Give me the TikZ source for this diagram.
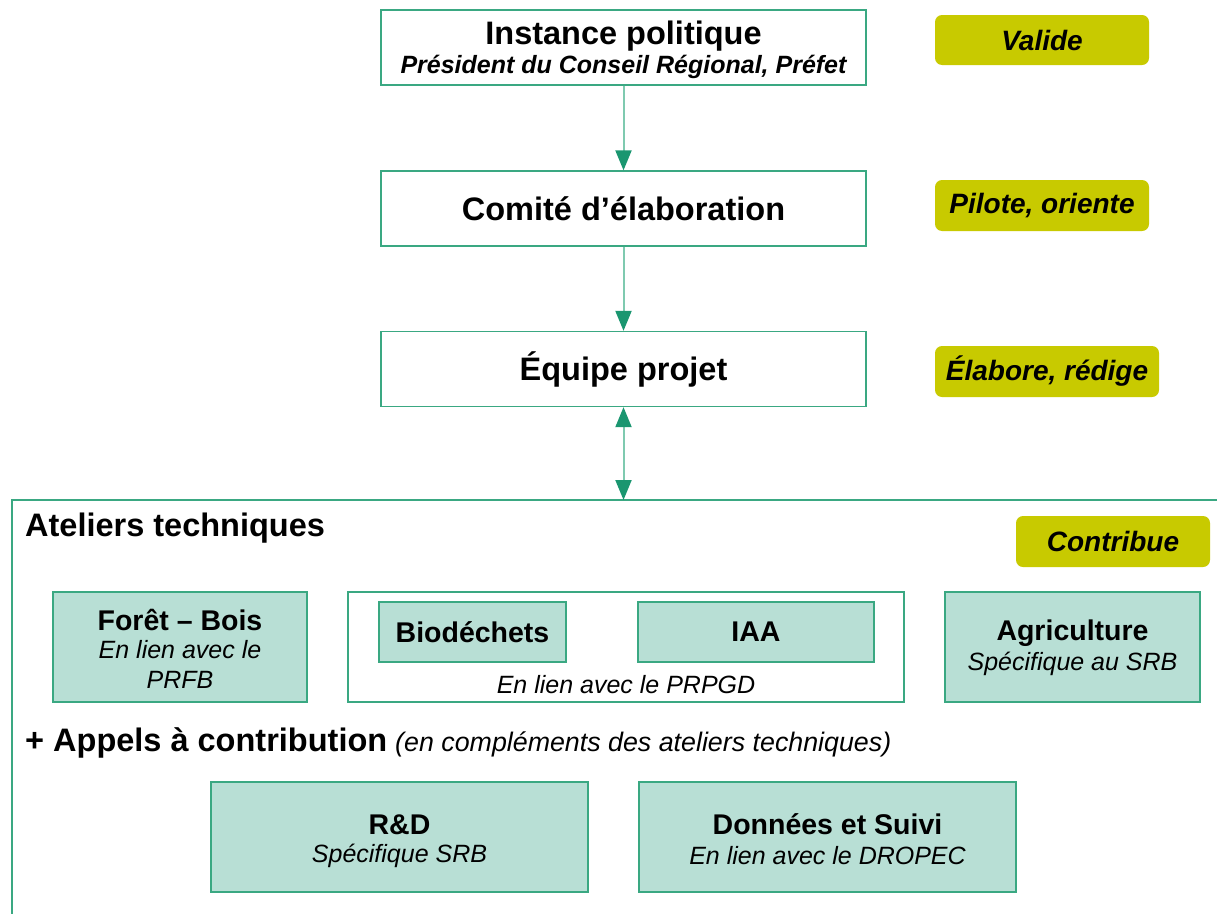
\documentclass[tikz,border=0pt]{standalone}
\usepackage{fontspec}
\setmainfont{Liberation Sans}
\usetikzlibrary{arrows.meta}
\definecolor{frame}{HTML}{3AA882}
\definecolor{tealfill}{HTML}{B8DFD5}
\definecolor{olive}{HTML}{C8CA00}
\definecolor{arrowdark}{HTML}{1A9670}
\definecolor{arrowlight}{HTML}{7FCAB0}
\tikzset{
  topbox/.style={draw=frame,line width=1.3pt,fill=white,minimum width=485pt,minimum height=75pt,inner sep=0pt,align=center},
  tagbox/.style={fill=olive,rounded corners=7pt,inner sep=0pt,font=\fontsize{28}{32}\selectfont\bfseries\itshape},
  tealbox/.style={draw=frame,line width=1.3pt,fill=tealfill,inner sep=0pt,align=center},
  ttl/.style={font=\fontsize{32.5}{38}\selectfont\bfseries},
  conn/.style={draw=arrowlight,line width=2pt,-{Triangle[length=20pt,width=16pt,color=arrowdark]}},
  conn2/.style={draw=arrowlight,line width=2pt,{Triangle[length=20pt,width=16pt,color=arrowdark]}-{Triangle[length=20pt,width=16pt,color=arrowdark]}},
}
\newcommand{\btx}{\fontsize{28.5}{34}\selectfont\bfseries}
\newcommand{\itx}{\fontsize{25}{30}\selectfont\itshape}
\begin{document}
\begin{tikzpicture}[x=1pt,y=-1pt]
\useasboundingbox (0,0) rectangle (1217,913);
% outer frame
\draw[frame,line width=1.3pt] (12,1000) -- (12,500) -- (1300,500);
% top chain
\node[topbox] (inst) at (623.5,47.5) {};
\node[ttl] at (623.5,36) {Instance politique};
\node[font=\fontsize{25}{30}\selectfont\bfseries\itshape] at (623.5,67) {Président du Conseil Régional, Préfet};
\node[topbox,ttl] (comite) at (623.5,208.5) {Comité d’élaboration};
\node[topbox,ttl] (equipe) at (623.5,369) {Équipe projet};
\coordinate (ateltop) at (623.5,500);
\draw[conn] (inst.south) -- (comite.north);
\draw[conn] (comite.south) -- (equipe.north);
\draw[conn2] (equipe.south) -- (ateltop);
% tags
\node[tagbox,minimum width=214pt,minimum height=50pt] (valide) at (1042,40) {Valide};
\node[tagbox,minimum width=214pt,minimum height=51pt] (pilote) at (1042,205.5) {Pilote, oriente};
\node[tagbox,minimum width=224pt,minimum height=51pt] (elabore) at (1047,371.5) {Élabore, rédige};
\node[tagbox,minimum width=194pt,minimum height=51pt] (contribue) at (1113,541.5) {Contribue};
% ateliers
\node[ttl,anchor=west,inner sep=0pt] (ateliers) at (25,528.5) {Ateliers techniques};
\node[tealbox,minimum width=254pt,minimum height=110pt] (foret) at (180,647) {};
\node[font=\btx] at (180,620) {Forêt – Bois};
\node[font=\itx] at (180,650) {En lien avec le};
\node[font=\itx] at (180,680) {PRFB};
\node[draw=frame,line width=1.3pt,fill=white,minimum width=556pt,minimum height=110pt,inner sep=0pt] (grp) at (626,647) {};
\node[tealbox,minimum width=187pt,minimum height=60pt,font=\btx] (bio) at (472.5,632) {Biodéchets};
\node[tealbox,minimum width=236pt,minimum height=60pt,font=\btx] (iaa) at (756,632) {IAA};
\node[font=\itx] (prpgd) at (626,685) {En lien avec le PRPGD};
\node[tealbox,minimum width=255pt,minimum height=110pt] (agri) at (1072.5,647) {};
\node[font=\btx] at (1072.5,633) {Agriculture};
\node[font=\itx] at (1072.5,664) {Spécifique au SRB};
% appels
\node[anchor=west,inner sep=0pt] (appels) at (25,742.5) {{\fontsize{32.5}{38}\selectfont\bfseries + Appels à contribution}\hspace{8pt}{\fontsize{26.8}{30}\selectfont\itshape (en compléments des ateliers techniques)}};
\node[tealbox,minimum width=377pt,minimum height=110pt] (rd) at (399.5,837) {};
\node[font=\btx] at (399.5,824.5) {R\&D};
\node[font=\itx] at (399.5,855.5) {Spécifique SRB};
\node[tealbox,minimum width=377pt,minimum height=110pt] (donnees) at (827.5,837) {};
\node[font=\btx] at (827.5,824.5) {Données et Suivi};
\node[font=\itx] at (827.5,855.5) {En lien avec le DROPEC};
\end{tikzpicture}
\end{document}
